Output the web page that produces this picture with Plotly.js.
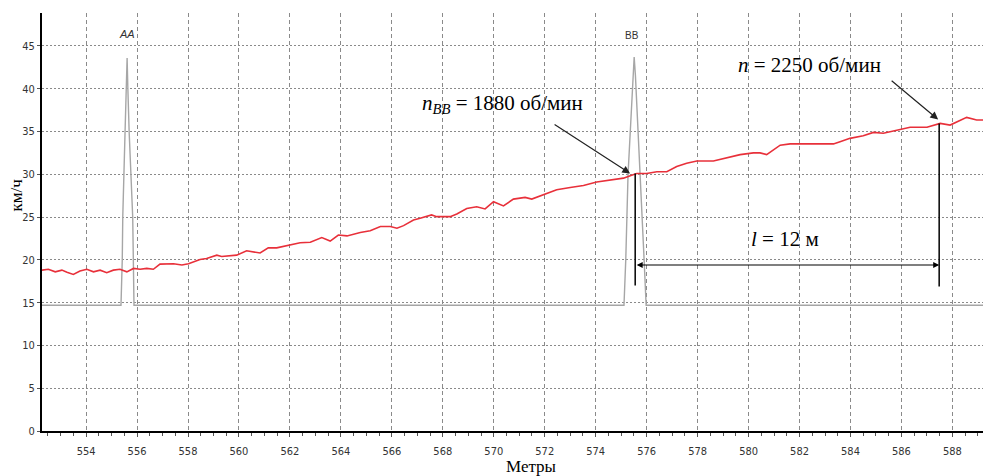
<!DOCTYPE html>
<html>
<head>
<meta charset="utf-8">
<script src="https://cdn.plot.ly/plotly-3.0.1.min.js"></script>
<style>html,body{margin:0;padding:0;background:#fff;}#chart{width:983px;height:476px;}</style>
</head>
<body>
<div id="chart"></div>
<script>
// Speed curve (km/h) vs distance (m)
var speedX = [552.27,552.52,552.79,553.05,553.25,553.5,553.76,554.03,554.29,554.55,554.81,555.07,555.33,555.6,555.86,556.12,556.38,556.64,556.9,557.43,557.76,558.02,558.47,558.73,559.13,559.32,559.91,560.3,560.83,561.15,561.48,562.0,562.4,562.8,563.25,563.58,563.9,564.24,564.76,565.15,565.55,565.94,566.2,566.46,566.85,567.11,567.56,567.76,568.29,568.55,568.94,569.33,569.66,569.99,570.38,570.77,571.23,571.49,571.95,572.47,573.0,573.52,574.04,574.57,575.09,575.41,575.61,576.0,576.4,576.79,577.18,577.57,577.97,578.62,579.14,579.67,580.19,580.45,580.71,580.97,581.24,581.63,582.28,583.33,583.59,583.98,584.5,584.9,585.29,585.95,586.34,587.0,587.52,587.91,588.3,588.56,588.95,589.2];
var speedY = [18.8,18.9,18.6,18.8,18.55,18.3,18.7,18.9,18.6,18.8,18.5,18.8,18.9,18.6,19.0,18.9,19.0,18.9,19.5,19.55,19.4,19.55,20.05,20.15,20.55,20.4,20.55,21.07,20.8,21.4,21.4,21.7,22.0,22.05,22.6,22.2,22.9,22.8,23.2,23.4,23.9,23.9,23.7,24.0,24.66,24.86,25.25,25.05,25.05,25.36,26.0,26.2,25.95,26.8,26.3,27.1,27.3,27.1,27.6,28.2,28.45,28.7,29.1,29.35,29.55,29.9,30.1,30.1,30.3,30.3,30.9,31.3,31.55,31.55,31.95,32.3,32.5,32.5,32.3,32.85,33.4,33.55,33.55,33.55,33.8,34.2,34.5,34.9,34.8,35.25,35.5,35.5,35.95,35.75,36.3,36.65,36.35,36.35];

// Sensor signal (marks AA and BB)
var markX = [552.27,555.37,555.42,555.44,555.53,555.58,555.61,555.64,555.69,555.83,555.85,555.88,575.11,575.18,575.27,575.4,575.46,575.51,575.56,575.62,575.74,575.9,575.98,589.2];
var markY = [14.7,14.7,20,25,35,40,43.6,40,35,25,20,14.7,14.7,20,30,38,41.5,43.7,41.5,38,30,20,14.7,14.7];

var xTickStart = 554, xTickStep = 2;
var yTickStep = 5;

var serif = 'Liberation Serif, Times New Roman, serif';
var tickFont = {family: 'Liberation Sans Narrow, Arial Narrow, DejaVu Sans Condensed, Arial, sans-serif', size: 11, color: '#333'};

var traces = [
  {x: markX, y: markY, type: 'scatter', mode: 'lines', line: {color: '#a6a6a6', width: 1.4}, hoverinfo: 'skip'},
  {x: speedX, y: speedY, type: 'scatter', mode: 'lines', line: {color: '#e8303a', width: 1.6}, hoverinfo: 'skip'}
];

var layout = {
  width: 983, height: 476,
  margin: {l: 42, r: 0, t: 13, b: 45},
  paper_bgcolor: '#fff', plot_bgcolor: '#fff',
  showlegend: false,
  xaxis: {
    range: [552.27, 589.2], tick0: xTickStart, dtick: xTickStep,
    showgrid: true, gridcolor: '#8a8a8a', gridwidth: 1, griddash: '4px,3px',
    zeroline: false, showline: true, linecolor: '#000', linewidth: 2,
    ticks: 'outside', ticklen: 4, tickcolor: '#555', tickfont: tickFont, ticklabelstandoff: 5,
    minor: {dtick: 0.5, ticks: 'outside', ticklen: 3, tickcolor: '#555', showgrid: false}
  },
  yaxis: {
    range: [0, 48.85], dtick: yTickStep, tick0: 0,
    showgrid: true, gridcolor: '#8a8a8a', gridwidth: 1, griddash: '2px,2px',
    zeroline: false, showline: true, linecolor: '#000', linewidth: 2,
    ticks: 'outside', ticklen: 3, tickcolor: '#555', tickfont: tickFont
  },
  shapes: [
    {type: 'line', xref: 'x', yref: 'y', x0: 575.55, x1: 575.55, y0: 17.0, y1: 30.1, line: {color: '#000', width: 1.5}},
    {type: 'line', xref: 'x', yref: 'y', x0: 587.48, x1: 587.48, y0: 16.9, y1: 35.95, line: {color: '#000', width: 1.5}}
  ],
  annotations: [
    {xref: 'paper', yref: 'paper', x: 0.52, y: -0.084, text: 'Метры', showarrow: false, font: {family: serif, size: 17, color: '#000'}, xanchor: 'center', yanchor: 'middle'},
    {xref: 'paper', yref: 'paper', x: -0.027, y: 0.565, text: 'км/ч', textangle: -90, showarrow: false, font: {family: serif, size: 17, color: '#000'}, xanchor: 'center', yanchor: 'middle'},
    {xref: 'x', yref: 'y', x: 555.61, y: 46.4, text: '<i>AA</i>', showarrow: false, font: {family: 'Liberation Sans, Arial, sans-serif', size: 11, color: '#333'}},
    {xref: 'x', yref: 'y', x: 575.43, y: 46.2, text: 'BB', showarrow: false, font: {family: 'Liberation Sans, Arial, sans-serif', size: 10, color: '#333'}},
    {xref: 'x', yref: 'y', x: 573.58, y: 38.2, xanchor: 'right', yanchor: 'middle', text: '<i>n</i><sub><i>BB</i></sub> = 1880 об/мин', showarrow: false, font: {family: serif, size: 21, color: '#000'}},
    {xref: 'x', yref: 'y', x: 582.41, y: 42.83, xanchor: 'center', yanchor: 'middle', text: '<i>n</i> = 2250 об/мин', showarrow: false, font: {family: serif, size: 21, color: '#000'}},
    {xref: 'x', yref: 'y', x: 581.43, y: 22.4, xanchor: 'center', yanchor: 'middle', text: '<i>l</i> = 12 м', showarrow: false, font: {family: serif, size: 21, color: '#000'}},
    {xref: 'x', yref: 'y', x: 575.35, y: 30.1, text: '', showarrow: true, arrowhead: 2, arrowsize: 1.3, arrowwidth: 1.2, arrowcolor: '#222', ax: -77, ay: -50},
    {xref: 'x', yref: 'y', x: 587.44, y: 36.4, text: '', showarrow: true, arrowhead: 2, arrowsize: 1.3, arrowwidth: 1.2, arrowcolor: '#222', ax: -48, ay: -40},
    {xref: 'x', yref: 'y', x: 587.48, y: 19.4, axref: 'x', ayref: 'y', ax: 575.55, ay: 19.4, text: '', showarrow: true, arrowside: 'end+start', arrowhead: 2, startarrowhead: 2, arrowsize: 1, startarrowsize: 1, arrowwidth: 1.2, arrowcolor: '#000'}
  ]
};

Plotly.newPlot('chart', traces, layout, {displayModeBar: false, staticPlot: true});
</script>
</body>
</html>
